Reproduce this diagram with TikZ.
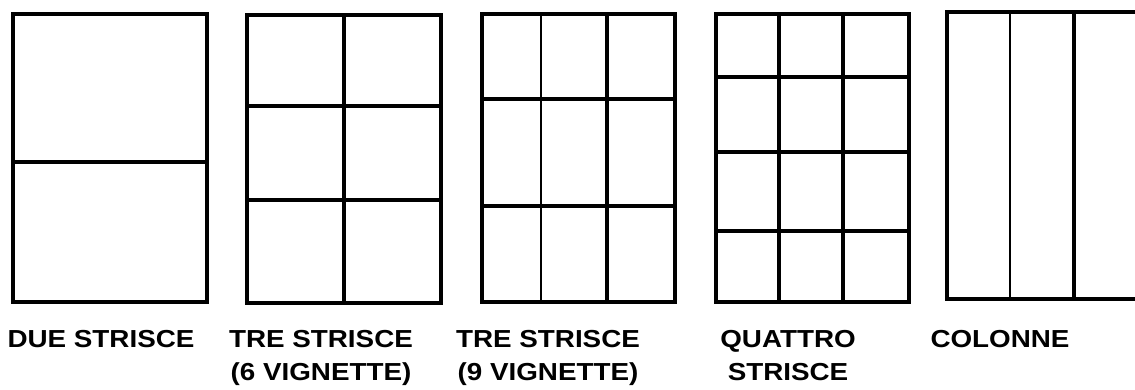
\documentclass[tikz,border=0pt]{standalone}
\usepackage{fontspec}
\newfontfamily\comicfont[FakeStretch=1.13]{Liberation Sans}

\begin{document}
\begin{tikzpicture}[x=0.03cm, y=-0.03cm,
    heavy/.style={line width=0.12cm, line cap=rect},
    medium/.style={line width=0.095cm},
    light/.style={line width=0.06cm},
    panelname/.style={anchor=north, inner sep=0pt, align=center,
        font=\comicfont\bfseries\fontsize{21}{28}\selectfont}]
    \useasboundingbox (0,0) rectangle (1135,390);

    % due strisce
    \draw[heavy] (13,14) rectangle (207,302);
    \draw[heavy] (13,162) -- (207,162);

    % tre strisce, 6 vignette
    \draw[heavy] (247,15) rectangle (441,303);
    \draw[medium] (344,15) -- (344,303);
    \draw[heavy] (247,106) -- (441,106);
    \draw[heavy] (247,200) -- (441,200);

    % tre strisce, 9 vignette
    \draw[heavy] (482,14) rectangle (675,302);
    \draw[light] (541,14) -- (541,302);
    \draw[heavy] (607,14) -- (607,302);
    \draw[heavy] (482,99) -- (675,99);
    \draw[heavy] (482,206) -- (675,206);

    % quattro strisce
    \draw[heavy] (716,14) rectangle (909,302);
    \draw[heavy] (779,14) -- (779,302);
    \draw[heavy] (843,14) -- (843,302);
    \draw[heavy] (716,77) -- (909,77);
    \draw[heavy] (716,152) -- (909,152);
    \draw[heavy] (716,231) -- (909,231);

    % colonne
    \draw[heavy] (1140,12) -- (947,12) -- (947,299) -- (1140,299);
    \draw[light] (1010,12) -- (1010,299);
    \draw[heavy] (1074,12) -- (1074,299);

    \node[panelname] (due) at (101,330) {DUE STRISCE};
    \node[panelname] (tresei) at (321,330) {TRE STRISCE\\(6 VIGNETTE)};
    \node[panelname] (trenove) at (548,330) {TRE STRISCE\\(9 VIGNETTE)};
    \node[panelname] (quattro) at (788,330) {QUATTRO\\STRISCE};
    \node[panelname] (colonne) at (1000,330) {COLONNE};
\end{tikzpicture}
\end{document}
